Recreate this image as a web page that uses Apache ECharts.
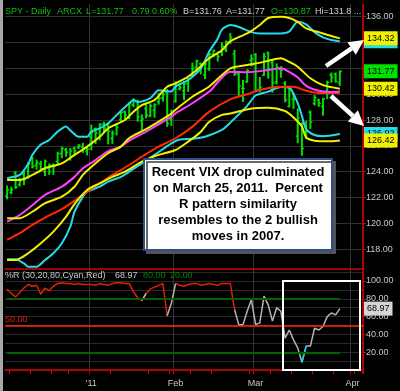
<!DOCTYPE html>
<html><head><meta charset="utf-8">
<script src="https://cdn.jsdelivr.net/npm/echarts@6/dist/echarts.min.js"></script>
<style>html,body{margin:0;padding:0;background:#000;}#c{width:400px;height:391px;}</style>
</head><body><div id="c"></div>
<script>
// ---- trading days (category axis) ----
const dates = [
 '2010-12-03','2010-12-06','2010-12-07','2010-12-08','2010-12-09','2010-12-10','2010-12-13','2010-12-14','2010-12-15','2010-12-16',
 '2010-12-17','2010-12-20','2010-12-21','2010-12-22','2010-12-23','2010-12-27','2010-12-28','2010-12-29','2010-12-30','2010-12-31',
 '2011-01-03','2011-01-04','2011-01-05','2011-01-06','2011-01-07','2011-01-10','2011-01-11','2011-01-12','2011-01-13','2011-01-14',
 '2011-01-18','2011-01-19','2011-01-20','2011-01-21','2011-01-24','2011-01-25','2011-01-26','2011-01-27','2011-01-28','2011-01-31',
 '2011-02-01','2011-02-02','2011-02-03','2011-02-04','2011-02-07','2011-02-08','2011-02-09','2011-02-10','2011-02-11','2011-02-14',
 '2011-02-15','2011-02-16','2011-02-17','2011-02-18','2011-02-22','2011-02-23','2011-02-24','2011-02-25','2011-02-28',
 '2011-03-01','2011-03-02','2011-03-03','2011-03-04','2011-03-07','2011-03-08','2011-03-09','2011-03-10','2011-03-11','2011-03-14',
 '2011-03-15','2011-03-16','2011-03-17','2011-03-18','2011-03-21','2011-03-22','2011-03-23','2011-03-24','2011-03-25','2011-03-28',
 '2011-03-29','2011-03-30','2011-03-31','2011-04-01','2011-04-04','2011-04-05'
];
const monthLabels = {'01':"'11", '02':'Feb', '03':'Mar', '04':'Apr'};

// ---- SPY daily OHLC ----
const opens = [122.1,122.4,123.9,123.0,123.8,123.6,125.0,124.5,124.6,124.0,124.3,124.5,124.8,125.4,125.7,125.0,125.8,125.9,125.9,125.6,
 126.71,127.33,126.58,127.69,127.56,126.58,127.58,128.03,128.63,128.19,129.18,129.41,127.96,128.88,128.29,128.76,129.42,129.70,130.14,128.07,
 129.46,130.40,130.26,130.83,131.44,132.09,132.35,131.48,131.97,133.07,133.07,133.24,133.43,134.04,133.12,131.56,130.46,130.97,132.62,
 133.06,130.36,131.47,133.19,132.43,130.97,131.91,130.85,129.04,129.59,126.75,127.66,127.03,128.60,129.28,129.54,129.05,130.25,131.48,131.55,130.87];
const highs = [122.9,122.8,124.0,123.5,124.0,124.7,125.1,124.9,124.8,124.9,124.6,124.6,125.5,125.9,125.8,125.8,125.9,126.1,126.2,125.9,
 127.60,127.37,127.72,127.83,127.77,127.16,127.70,128.58,128.69,129.33,129.64,129.54,128.40,129.17,129.25,129.25,130.05,130.21,130.35,128.77,
 130.96,130.84,130.98,131.20,132.40,132.64,132.41,132.42,133.15,133.41,133.24,133.97,134.11,134.69,133.39,131.75,131.06,131.89,133.05,
 133.14,131.29,133.16,133.26,132.59,132.34,132.13,130.97,130.61,130.06,128.87,127.79,127.90,128.70,129.90,129.61,129.67,131.00,131.64,131.64,131.80];
const lows = [121.9,122.3,122.7,122.9,123.0,123.5,124.3,124.2,124.1,123.7,123.8,123.8,124.6,125.1,125.2,124.9,125.3,125.8,125.5,125.3,
 125.70,126.19,126.46,127.01,126.15,126.20,126.85,127.91,128.05,128.10,129.03,127.91,127.13,128.17,128.26,128.22,129.23,129.47,127.51,127.58,
 129.38,130.33,129.57,130.23,131.43,131.73,131.58,131.20,131.85,132.89,132.57,133.00,133.30,133.93,131.45,129.83,129.44,130.92,132.19,
 130.22,130.21,131.46,131.24,130.16,130.78,131.31,129.40,129.02,128.90,126.25,125.28,126.60,127.35,129.16,129.06,128.38,129.65,130.93,130.94,130.67];
const closes = [122.6,122.6,122.8,123.3,123.4,124.6,124.4,124.7,124.2,124.8,124.5,124.4,125.4,125.8,125.5,125.6,125.6,126.0,125.8,125.75,
 127.05,126.98,127.64,127.39,127.14,126.98,127.43,128.58,128.37,129.30,129.52,128.25,128.08,128.37,129.10,129.17,129.67,129.99,127.72,128.68,
 130.74,130.49,130.78,131.15,131.97,132.57,132.18,132.33,133.10,133.37,132.91,133.72,134.05,134.39,131.58,130.64,130.45,131.82,132.72,
 130.31,130.53,132.92,131.99,130.86,132.06,131.85,129.55,130.47,129.64,128.17,125.80,127.13,127.83,129.74,129.29,129.62,130.92,131.31,130.98,131.77];

// ---- overlay lines: [dayIndex, value] ----
const cyanUpper = [[0,123.5],[3,123.75],[5,124.6],[6,125.3],[8,126.1],[10,126.46],[12,127.1],[14,127.5],[15,127.2],[17,126.7],[19,126.7],[20,127.1],[22,127.36],[24,127.75],[27,128.7],[29,129.3],[30,129.55],[31,129.4],[34,129.7],[36,130.3],[39,130.2],[40,130.6],[43,131.1],[46,132.0],[48,133.3],[50,134.3],[51,135.0],[53,135.35],[55,135.2],[58,134.8],[60,134.7],[65,134.7],[67,134.85],[69,135.6],[71,135.4],[73,134.8],[75,134.4],[77,134.2],[79,134.1]];
const yellowUpper = [[0,123.36],[3,123.36],[6,123.75],[9,124.27],[13,124.65],[16,125.3],[19,125.94],[22,126.7],[24,127.36],[28,128.0],[30,128.65],[32,129.16],[35,129.55],[38,130.58],[40,130.84],[43,131.36],[45,131.87],[48,132.78],[51,133.4],[53,134.1],[57,134.7],[60,135.36],[62,135.9],[65,136.0],[67,135.9],[69,135.6],[71,135.1],[74,134.8],[76,134.6],[79,134.32]];
const magentaMA = [[0,120.13],[3,120.65],[6,121.4],[9,122.2],[13,122.84],[16,123.6],[18,124.27],[21,124.9],[24,125.6],[27,125.94],[29,126.4],[33,127.1],[39,128.26],[40,128.52],[44,129.3],[48,130.2],[53,131.74],[57,131.7],[62,131.87],[65,132.0],[66,131.9],[69,131.3],[71,130.65],[74,130.27],[77,130.17],[79,130.2]];
const yellowMid = [[0,120.4],[3,120.4],[6,120.9],[9,121.56],[13,122.07],[16,122.84],[18,123.75],[21,124.65],[24,125.43],[27,125.94],[29,126.6],[33,127.3],[39,128.5],[40,128.8],[44,129.8],[48,130.6],[53,132.0],[57,132.26],[61,132.5],[65,132.78],[67,132.5],[69,132.13],[72,131.23],[75,130.7],[79,130.42]];
const redMA = [[0,118.72],[3,119.24],[6,119.88],[9,120.45],[13,121.1],[16,121.75],[19,122.46],[22,123.1],[25,123.75],[29,124.52],[32,125.16],[36,125.94],[40,126.59],[44,127.49],[48,128.65],[53,129.6],[57,130.0],[61,130.4],[65,130.58],[68,130.58],[71,130.27],[74,130.1],[79,130.1]];
const yellowLow = [[0,117.17],[2,117.17],[5,117.69],[8,118.46],[11,119.36],[14,120.52],[16,121.5],[19,122.59],[22,123.1],[25,123.6],[28,124.0],[32,124.78],[36,125.3],[40,125.68],[43,126.33],[46,127.1],[48,127.87],[51,128.4],[53,128.5],[58,128.9],[62,128.95],[66,128.7],[68,128.2],[70,127.5],[71,126.65],[73,126.4],[76,126.35],[79,126.42]];
const cyanLow = [[0,117.22],[2,117.22],[4,116.9],[5,116.65],[7,116.65],[9,117.17],[11,117.69],[13,118.46],[15,119.75],[16,120.9],[18,122.07],[19,122.46],[22,122.84],[24,123.23],[27,123.6],[29,124.0],[32,124.65],[35,125.3],[39,126.2],[41,126.5],[44,126.55],[47,126.71],[51,127.23],[53,127.8],[57,129.1],[59,129.9],[62,130.2],[65,130.55],[67,130.5],[69,129.3],[70,128.3],[71,127.3],[73,126.84],[75,126.75],[79,126.92]];

// ---- %R (30) ----
const pctR = [91,86,82,87,92,96,94,95,85,92,89,94,97,98,97,97,96,97,96,96,
 96,95,97,96,95,97,98,98,97,97,88,81,78,86,91,93,95,97,61,75,
 97,95,94,96,97,97,95,96,97,96,95,97,97,97,68,51,51,66,79,
 51,53,83,73,55,70,66,36,45,34,25,9,27,27,47,45,49,60,64,62,68.97];

const priceTicks = [118,120,122,124,126,128,130,132,134,136];
const pctLabelTicks = [20,40,60,80,100];
const pctGridTicks = [0,10,20,30,40,50,60,70,80,90,100,110];

// ---- helpers ----
const FONT = '"Liberation Sans", Arial, sans-serif';
const monthOf = i => dates[i].slice(0,7);
const isMonthStart = i => i > 0 && i < dates.length && monthOf(i) !== monthOf(i-1);
const isMonday = i => i < dates.length && new Date(dates[i] + 'T00:00:00Z').getUTCDay() === 1;
const last = arr => arr[arr.length-1];
const HIDDEN = {color:'rgba(0,0,0,0)', width:0, type:'solid'};

const ohlcData = closes.map((c, i) => [i, opens[i], closes[i], lows[i], highs[i]]);

function endLabel(bg){
  return {show:true, position:'end', distance:1, formatter: p => Number(p.value).toFixed(2),
    backgroundColor:bg, color:'#000', fontSize:9, fontFamily:FONT, padding:[3,3,2,3]};
}
function lineSeries(name, data, color, z, labelBg, extra){
  const s = {type:'line', name, data, xAxisIndex:0, yAxisIndex:0, showSymbol:false, symbol:'none',
    smooth:0.25, lineStyle:{color, width:2}, z, silent:true};
  if (labelBg){
    const items = [{yAxis: last(data)[1], label: endLabel(labelBg), lineStyle:HIDDEN}];
    if (extra) items.push(extra);
    s.markLine = {silent:true, symbol:['none','none'], lineStyle:HIDDEN, label:{show:true}, data: items, z};
  }
  return s;
}

function segment(test){
  return pctR.map((v, i) => (test(v) || (i > 0 && test(pctR[i-1]))) ? [i, v] : [i, '-']);
}
const isHigh = v => v > 80, isLow = v => v < 20, isMid = v => v >= 20 && v <= 80;

function pctSeries(data, color){
  return {type:'line', data, xAxisIndex:1, yAxisIndex:1, showSymbol:false, symbol:'none',
    lineStyle:{color, width:1.5}, connectNulls:false, z:5, silent:true};
}

const midR = pctSeries(segment(isMid), '#b4b4b4');
midR.markLine = {silent:true, symbol:['none','none'], label:{show:false}, z:6,
  data:[
    [{coord:[dates[0],80], lineStyle:{color:'#006400', width:2, type:'solid'}}, {coord:[dates[pctR.length-1],80]}],
    [{coord:[dates[0],20], lineStyle:{color:'#006400', width:2, type:'solid'}}, {coord:[dates[pctR.length-1],20]}],
    {yAxis:50, lineStyle:{color:'#ff2a00', width:1.5, type:'solid'}},
    {yAxis:last(pctR), lineStyle:HIDDEN, label:endLabel('#d4d4d4')}
  ]};

const chart = echarts.init(document.getElementById('c'), null, {renderer:'canvas'});

function txt(x, y, text, fill, font, extra){
  return Object.assign({type:'text', x, y, z:60, silent:true,
    style:{text, fill, font: font || ('9px ' + FONT), align:'left', verticalAlign:'middle'}}, extra || {});
}
const green = '#10c010', light = '#d2d2d2';

function arrow(x1, y1, x2, y2){
  const dx = x2 - x1, dy = y2 - y1, len = Math.sqrt(dx*dx + dy*dy);
  const ux = dx/len, uy = dy/len, hl = 15, hw = 7.5;
  const bx = x2 - ux*hl, by = y2 - uy*hl;
  return [
    {type:'line', z:70, silent:true, shape:{x1, y1, x2:bx, y2:by}, style:{stroke:'#fff', lineWidth:4.5}},
    {type:'polygon', z:70, silent:true, shape:{points:[[x2,y2],[bx - uy*hw, by + ux*hw],[bx + uy*hw, by - ux*hw]]}, style:{fill:'#fff'}}
  ];
}

const option = {
  backgroundColor:'#000',
  animation:false,
  textStyle:{fontFamily:FONT},
  grid:[
    {left:5, right:37, top:4, height:265},
    {left:5, right:37, top:269, height:104}
  ],
  xAxis:[
    {type:'category', gridIndex:0, data:dates, boundaryGap:true,
     axisLine:{show:true, lineStyle:{color:'#d40000', width:1.5}}, axisTick:{show:false}, axisLabel:{show:false},
     splitLine:{show:true, interval:(i) => isMonthStart(i), lineStyle:{color:'#333', width:1}}},
    {type:'category', gridIndex:1, data:dates, boundaryGap:true,
     axisLine:{show:true, lineStyle:{color:'#d40000', width:1.5}},
     axisTick:{show:true, interval:(i) => isMonday(i) || isMonthStart(i), length:4, lineStyle:{color:'#d40000'}},
     axisLabel:{interval:(i) => isMonthStart(i), formatter:(v) => monthLabels[v.slice(5,7)] || '', color:'#c8c8c8', fontSize:9, margin:6},
     splitLine:{show:true, interval:(i) => isMonthStart(i), lineStyle:{color:'#333', width:1}}}
  ],
  yAxis:[
    {type:'value', gridIndex:0, position:'right', min:116.47, max:136.98, scale:true,
     axisLine:{show:true, lineStyle:{color:'#d40000', width:1.5}},
     axisTick:{show:true, length:3, customValues:priceTicks, lineStyle:{color:'#d40000'}},
     axisLabel:{customValues:priceTicks, formatter:v => Number(v).toFixed(2), color:'#c8c8c8', fontSize:9, margin:3},
     splitLine:{show:true, lineStyle:{color:'#303030', width:1}}},
    {type:'value', gridIndex:1, position:'right', min:-3.1, max:113.3, scale:true,
     axisLine:{show:true, lineStyle:{color:'#d40000', width:1.5}},
     axisTick:{show:true, length:3, customValues:pctLabelTicks, lineStyle:{color:'#d40000'}},
     axisLabel:{customValues:pctLabelTicks, formatter:v => Number(v).toFixed(2), color:'#c8c8c8', fontSize:9, margin:3},
     splitLine:{show:false}},
    {type:'value', gridIndex:1, position:'right', min:-3.1, max:113.3, scale:true,
     axisLine:{show:false}, axisTick:{show:false, customValues:pctGridTicks}, axisLabel:{show:false},
     splitLine:{show:true, lineStyle:{color:'#2a2a2a', width:1}}}
  ],
  series:[
    {type:'custom', name:'SPY', xAxisIndex:0, yAxisIndex:0, data:ohlcData, encode:{x:0, y:[1,2,3,4]}, z:2, silent:true,
     renderItem:function(params, api){
       const i = api.value(0);
       const o = api.coord([i, api.value(1)]), c = api.coord([i, api.value(2)]);
       const l = api.coord([i, api.value(3)]), h = api.coord([i, api.value(4)]);
       const col = '#00e000';
       return {type:'group', children:[
         {type:'line', shape:{x1:h[0], y1:h[1]-0.5, x2:l[0], y2:l[1]+0.5}, style:{stroke:col, lineWidth:2}},
         {type:'line', shape:{x1:o[0]-2, y1:o[1], x2:o[0], y2:o[1]}, style:{stroke:col, lineWidth:1.5}},
         {type:'line', shape:{x1:c[0], y1:c[1], x2:c[0]+2, y2:c[1]}, style:{stroke:col, lineWidth:1.5}}
       ]};
     }},
    lineSeries('cyanLow', cyanLow, '#22dde8', 3, '#22dde8'),
    lineSeries('cyanUpper', cyanUpper, '#22dde8', 3, '#22dde8'),
    lineSeries('redMA', redMA, '#ff2a00', 4, null),
    lineSeries('magentaMA', magentaMA, '#ff40ff', 4, null),
    lineSeries('yellowLow', yellowLow, '#f0f000', 5, '#f0f000'),
    lineSeries('yellowMid', yellowMid, '#f0f000', 5, '#f0f000',
      {yAxis:last(closes), label:endLabel('#00e000'), lineStyle:HIDDEN}),
    lineSeries('yellowUpper', yellowUpper, '#f0f000', 5, '#f0f000'),
    pctSeries(segment(isHigh), '#e02000'),
    midR,
    pctSeries(segment(isLow), '#00d8e8')
  ],
  graphic:[
    {type:'rect', z:60, silent:true, shape:{x:0, y:0, width:3, height:391}, style:{fill:'#a8a8a8'}},
    txt(5, 12, 'SPY - Daily', green),
    txt(57, 12, 'ARCX', green),
    txt(86, 12, 'L=' + last(closes).toFixed(2), green),
    txt(132, 12, '0.79', green),
    txt(152, 12, '0.60%', green),
    txt(183, 12, 'B=131.76', light),
    txt(226, 12, 'A=131.77', light),
    txt(271, 12, 'O=' + last(opens).toFixed(2), green),
    txt(315, 12, 'Hi=131.8 ...', light),
    txt(5, 276, '%R (30,20,80,Cyan,Red)', '#c8c8c8'),
    txt(115, 276, last(pctR).toFixed(2), '#c8c8c8'),
    txt(143, 276, '80.00', '#008000'),
    txt(170, 276, '20.00', '#008000'),
    txt(5, 319.5, '50.00', '#e02000'),
    {type:'rect', z:65, silent:true, shape:{x:144, y:159, width:188, height:91},
     style:{fill:'#fff', stroke:'#2f4f86', lineWidth:2, shadowColor:'rgba(90,90,90,0.9)', shadowOffsetX:3, shadowOffsetY:3}},
    {type:'text', z:66, silent:true, x:238, y:204.5,
     style:{text:'Recent VIX drop culminated\non March 25, 2011.  Percent\nR pattern similarity\nresembles to the 2 bullish\nmoves in 2007.',
       fill:'#000', font:'bold 13px ' + FONT, align:'center', verticalAlign:'middle', lineHeight:16}},
    ...arrow(326, 66, 364, 40),
    ...arrow(331, 96, 364, 126),
    {type:'rect', z:70, silent:true, shape:{x:283, y:281, width:77, height:89}, style:{fill:'none', stroke:'#fff', lineWidth:2}}
  ]
};
chart.setOption(option);
</script>
</body></html>
